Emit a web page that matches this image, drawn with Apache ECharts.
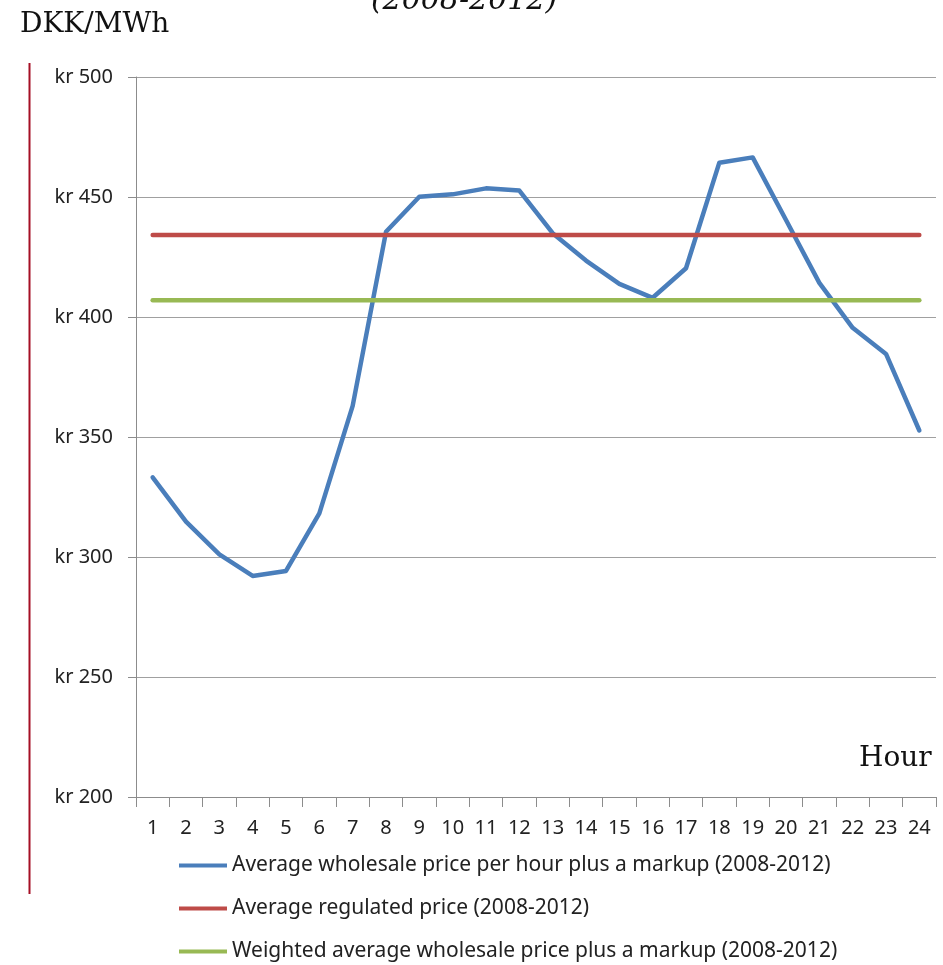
<!DOCTYPE html>
<html>
<head>
	<meta charset="UTF-8">
	<title></title>
	<style>
		html, body { margin: 0; padding: 0; background: #fff; }
		#chart { width: 943px; height: 965px; }
	</style>
	<script src="https://cdn.jsdelivr.net/npm/echarts@6/dist/echarts.min.js"></script>
</head>
<body>
	<div id="chart"></div>
	<script>
		// hours of the day
		var hours = ['1', '2', '3', '4', '5', '6', '7', '8', '9', '10', '11', '12',
			'13', '14', '15', '16', '17', '18', '19', '20', '21', '22', '23', '24'];

		// DKK/MWh
		var wholesale = [333.2, 314.7, 301.1, 292.1, 294.2, 318.2, 363.0, 435.5,
			450.1, 451.1, 453.6, 452.7, 434.9, 423.5, 413.8, 408.0,
			420.3, 464.3, 466.5, 440.4, 414.2, 395.5, 384.6, 352.7];
		var regulated = [434.2, 434.2, 434.2, 434.2, 434.2, 434.2, 434.2, 434.2,
			434.2, 434.2, 434.2, 434.2, 434.2, 434.2, 434.2, 434.2,
			434.2, 434.2, 434.2, 434.2, 434.2, 434.2, 434.2, 434.2];
		var weighted = [407.0, 407.0, 407.0, 407.0, 407.0, 407.0, 407.0, 407.0,
			407.0, 407.0, 407.0, 407.0, 407.0, 407.0, 407.0, 407.0,
			407.0, 407.0, 407.0, 407.0, 407.0, 407.0, 407.0, 407.0];

		var seriesNames = [
			'Average wholesale price per hour plus a markup (2008-2012)',
			'Average regulated price (2008-2012)',
			'Weighted average wholesale price plus a markup (2008-2012)'
		];

		var sans = '"Noto Sans", "Open Sans", sans-serif';
		var serif = '"DejaVu Serif", "Liberation Serif", serif';

		var myChart = echarts.init(document.getElementById('chart'));

		function lineSeries(name, data, color) {
			return {
				name: name,
				type: 'line',
				data: data,
				showSymbol: false,
				symbol: 'none',
				lineStyle: { color: color, width: 4.5, cap: 'round', join: 'round' },
				itemStyle: { color: color },
				animation: false
			};
		}

		var option = {
			animation: false,
			grid: { left: 136, right: 7, top: 77, bottom: 168, containLabel: false },
			legend: {
				orient: 'vertical',
				left: 179,
				top: 855,
				padding: 0,
				icon: 'rect',
				itemWidth: 48,
				itemHeight: 4,
				itemGap: 22,
				textStyle: { fontFamily: sans, fontSize: 21, color: '#222' },
				data: seriesNames
			},
			xAxis: {
				type: 'category',
				data: hours,
				boundaryGap: true,
				axisLine: { lineStyle: { color: '#8c8c8c', width: 1 } },
				axisTick: { show: true, length: 10, lineStyle: { color: '#8c8c8c' } },
				axisLabel: { fontFamily: sans, fontSize: 20, color: '#222', margin: 21, interval: 0 }
			},
			yAxis: {
				type: 'value',
				min: 200,
				max: 500,
				interval: 50,
				axisLine: { show: true, lineStyle: { color: '#8c8c8c', width: 1 } },
				axisTick: { show: true, length: 8, lineStyle: { color: '#8c8c8c' } },
				splitLine: { lineStyle: { color: '#a0a0a0', width: 1 } },
				axisLabel: {
					fontFamily: sans, fontSize: 20, color: '#222', margin: 23,
					formatter: function (v) { return 'kr ' + v; }
				}
			},
			graphic: [
				{
					type: 'text', left: 20, top: 11,
					style: { text: 'DKK/MWh', font: '28px ' + serif, fill: '#111' }
				},
				{
					type: 'text', x: 464, y: 16,
					style: { text: '(2008-2012)', font: 'italic 30px ' + serif, fill: '#111', align: 'center', verticalAlign: 'bottom' }
				},
				{
					type: 'text', left: 859, top: 745,
					style: { text: 'Hour', font: '28px ' + serif, fill: '#111' }
				},
				{
					type: 'line',
					shape: { x1: 29.5, y1: 63, x2: 29.5, y2: 894 },
					style: { stroke: '#a50f24', lineWidth: 2 }
				}
			],
			series: [
				lineSeries(seriesNames[0], wholesale, '#4a7ebb'),
				lineSeries(seriesNames[1], regulated, '#be4b48'),
				lineSeries(seriesNames[2], weighted, '#98b954')
			]
		};

		myChart.setOption(option);
	</script>
</body>
</html>
